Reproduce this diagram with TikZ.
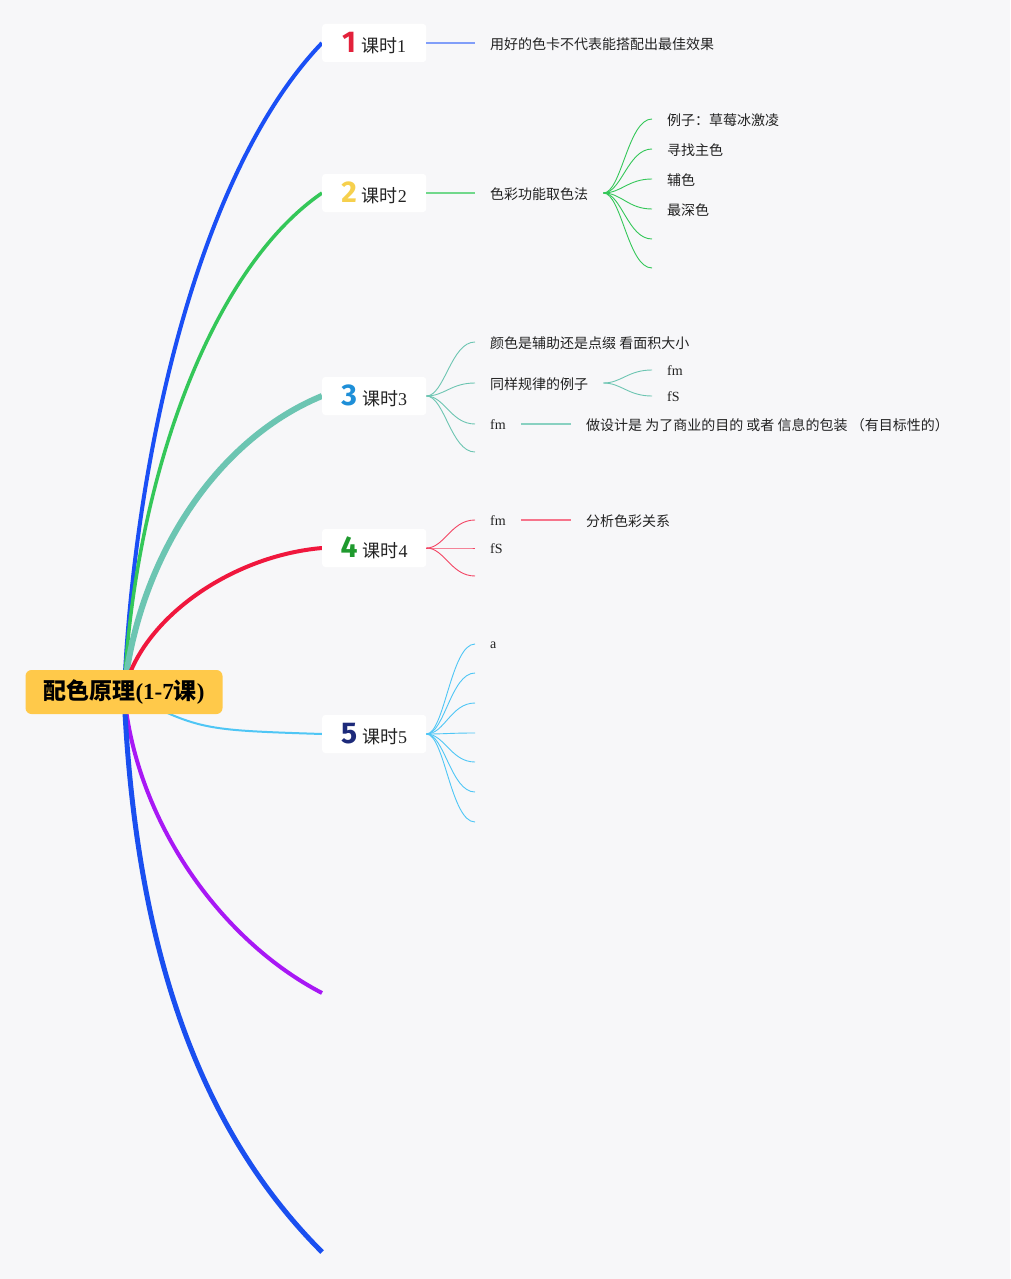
\documentclass[tikz,border=0pt]{standalone}
\usepackage{fontspec}
\setmainfont{Liberation Serif}
\newfontfamily\cjk{Noto Sans CJK SC}
\newfontfamily\badgefont{Fira Sans}
\usetikzlibrary{backgrounds}
\definecolor{paper}{HTML}{F7F7F9}
\definecolor{ink}{HTML}{222222}
\definecolor{rootfill}{HTML}{FFC94A}
\definecolor{blueA}{HTML}{1A4FF5}
\definecolor{greenA}{HTML}{34C759}
\definecolor{tealA}{HTML}{6CC5B2}
\definecolor{redA}{HTML}{F0173D}
\definecolor{skyA}{HTML}{4FC6F5}
\definecolor{purpleA}{HTML}{A818F5}
\definecolor{blueB}{HTML}{1A4FF0}
\definecolor{badgeI}{HTML}{E3213B}
\definecolor{badgeII}{HTML}{F6D04D}
\definecolor{badgeIII}{HTML}{1E8FD8}
\definecolor{badgeIV}{HTML}{1F9A2E}
\definecolor{badgeV}{HTML}{1D2A7A}
\newcommand{\lessontext}[2]{{\badgefont\bfseries\fontsize{30}{30}\selectfont\color{#1}#2}\hspace{5pt}{\cjk 课时}#2}

\begin{document}
\begin{tikzpicture}[x=1pt,y=-1pt,every node/.style={text=ink,font=\fontsize{14}{16}\selectfont},
root/.style={fill=rootfill,rounded corners=6pt,minimum width=197pt,minimum height=44pt,
text=black,font=\bfseries\fontsize{23}{25}\selectfont},
lesson/.style={fill=white,rounded corners=3pt,anchor=west,minimum width=104pt,minimum height=38pt,
inner xsep=0pt,font=\fontsize{18}{20}\selectfont},
leaf/.style={anchor=west,inner xsep=15pt,inner ysep=3pt,yshift=-1pt},
twig/.style={line width=1.3pt},fan/.style={line width=0.9pt}]
\useasboundingbox (0,0) rectangle (1010,1279);
% central topic and lessons
\node[root] (root) at (124,692) {{\cjk\bfseries 配色原理}(1-7{\cjk\bfseries 课})};
\node[lesson] (l1) at (322,43) {\lessontext{badgeI}{1}};
\node[lesson] (l2) at (322,193) {\lessontext{badgeII}{2}};
\node[lesson] (l3) at (322,396) {\lessontext{badgeIII}{3}};
\node[lesson] (l4) at (322,548) {\lessontext{badgeIV}{4}};
\node[lesson] (l5) at (322,734) {\lessontext{badgeV}{5}};
\coordinate (e6) at (322,993);
\coordinate (e7) at (322,1252);
\begin{scope}[on background layer]
\fill[paper] (0,0) rectangle (1010,1279);
\draw[blueA,line width=4pt] (root.center) .. controls (135,450) and (200,170) .. (l1.west);
\draw[greenA,line width=3.5pt] (root.center) .. controls (135,480) and (210,270) .. (l2.west);
\draw[tealA,line width=6pt] (root.center) .. controls (138,560) and (215,440) .. (l3.west);
\draw[redA,line width=4pt] (root.center) .. controls (140,620) and (230,556) .. (l4.west);
\draw[skyA,line width=2pt] (root.center) .. controls (200,730) .. (l5.west);
\draw[purpleA,line width=4pt] (root.center) .. controls (135,820) and (220,940) .. (e6);
\draw[blueB,line width=5pt] (root.center) .. controls (135,950) and (200,1130) .. (e7);
\end{scope}
% lesson 1
\node[leaf] (a1) at (475,43) {\cjk 用好的色卡不代表能搭配出最佳效果};
\draw[twig,blueA!55] (l1.east) -- (l1.east -| a1.west);
% lesson 2
\node[leaf] (b1) at (475,193) {\cjk 色彩功能取色法};
\draw[twig,greenA!70] (l2.east) -- (l2.east -| b1.west);
\node[leaf] (b11) at (652,119) {\cjk 例子：草莓冰激凌};
\node[leaf] (b12) at (652,149) {\cjk 寻找主色};
\node[leaf] (b13) at (652,179) {\cjk 辅色};
\node[leaf] (b14) at (652,209) {\cjk 最深色};
\coordinate (b15) at (652,239);
\coordinate (b16) at (652,268);
\foreach \t in {b11,b12,b13,b14}
  \draw[fan,greenA] (l2.east -| b1.east) .. controls +(18,0) and +(-24,0) .. ([yshift=1pt]\t.west);
\foreach \t in {b15,b16}
  \draw[fan,greenA] (l2.east -| b1.east) .. controls +(18,0) and +(-24,0) .. (\t);
% lesson 3
\node[leaf] (c1) at (475,342) {\cjk 颜色是辅助还是点缀 看面积大小};
\node[leaf] (c2) at (475,383) {\cjk 同样规律的例子};
\node[leaf] (c3) at (475,424) {fm};
\coordinate (c4) at (475,452);
\foreach \t in {c1,c2,c3}
  \draw[fan,tealA] (l3.east) .. controls +(18,0) and +(-24,0) .. ([yshift=1pt]\t.west);
\draw[fan,tealA] (l3.east) .. controls +(18,0) and +(-24,0) .. (c4);
\node[leaf] (c21) at (652,370) {fm};
\node[leaf] (c22) at (652,396) {fS};
\foreach \t in {c21,c22}
  \draw[fan,tealA] ([yshift=1pt]c2.east) .. controls +(18,0) and +(-24,0) .. ([yshift=1pt]\t.west);
\node[leaf] (c31) at (571,424) {\cjk 做设计是 为了商业的目的 或者 信息的包装 （有目标性的）};
\draw[twig,tealA!80] ([yshift=1pt]c3.east) -- ([yshift=1pt]c31.west);
% lesson 4
\node[leaf] (d1) at (475,520) {fm};
\node[leaf] (d2) at (475,548) {fS};
\coordinate (d3) at (475,576);
\foreach \t in {d1,d2}
  \draw[fan,redA!80] (l4.east) .. controls +(18,0) and +(-24,0) .. ([yshift=1pt]\t.west);
\draw[fan,redA!80] (l4.east) .. controls +(18,0) and +(-24,0) .. (d3);
\node[leaf] (d11) at (571,520) {\cjk 分析色彩关系};
\draw[twig,redA!60] ([yshift=1pt]d1.east) -- ([yshift=1pt]d11.west);
% lesson 5
\node[leaf] (f1) at (475,644) {a};
\coordinate (f2) at (475,673);
\coordinate (f3) at (475,703);
\coordinate (f4) at (475,733);
\coordinate (f5) at (475,762);
\coordinate (f6) at (475,792);
\coordinate (f7) at (475,822);
\draw[fan,skyA] (l5.east) .. controls +(18,0) and +(-24,0) .. ([yshift=1pt]f1.west);
\foreach \t in {f2,f3,f4,f5,f6,f7}
  \draw[fan,skyA] (l5.east) .. controls +(18,0) and +(-24,0) .. (\t);
\end{tikzpicture}
\end{document}
